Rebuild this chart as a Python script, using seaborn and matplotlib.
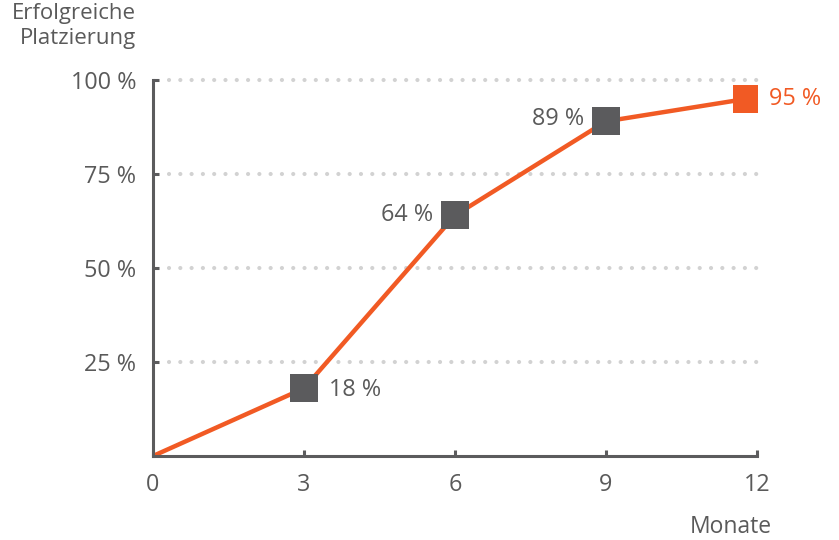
import matplotlib
matplotlib.use("Agg")
import matplotlib.pyplot as plt
import seaborn as sns
import pandas as pd

# Werte
monate = [0, 3, 6, 9, 11.8]
platzierung = [0, 18, 64, 89, 95]
beschriftung = ["", "18 %", "64 %", "89 %", "95 %"]
y_ticks = [25, 50, 75, 100]
x_ticks = [0, 3, 6, 9, 12]

orange = "#f15a24"
grau = "#5b5b5d"
text_grau = "#5a5a5a"
fs = 16.8

sns.set_style("white")
plt.rcParams['font.family'] = ['Open Sans', 'DejaVu Sans']

df = pd.DataFrame({"Monate": monate, "Platzierung": platzierung})

fig = plt.figure(figsize=(8.39, 5.40), dpi=100)
ax = fig.add_axes([0.1824, 0.1556, 0.7199, 0.6963])

# Gitterlinien gepunktet
for y in y_ticks:
    ax.plot([0.32, 12.0], [y, y], linestyle=(0, (0.01, 2.7)), dash_capstyle="round",
            color="#d2d2d2", linewidth=3, zorder=1, clip_on=False)

sns.lineplot(data=df, x="Monate", y="Platzierung", color=orange, linewidth=3.2,
             ax=ax, zorder=2)

# Marker
ax.scatter(monate[1:4], platzierung[1:4], marker="s", s=420, color=grau, zorder=3, linewidths=0)
ax.scatter(monate[4:], platzierung[4:], marker="s", s=420, color=orange, zorder=3, linewidths=0)

# Beschriftungen der Punkte
ax.annotate(beschriftung[1], (monate[1], platzierung[1]), xytext=(18, -1), textcoords="offset points",
            ha="left", va="center", fontsize=fs, color=text_grau)
ax.annotate(beschriftung[2], (monate[2], platzierung[2]), xytext=(-16, 0), textcoords="offset points",
            ha="right", va="center", fontsize=fs, color=text_grau)
ax.annotate(beschriftung[3], (monate[3], platzierung[3]), xytext=(-16, 2), textcoords="offset points",
            ha="right", va="center", fontsize=fs, color=text_grau)
ax.annotate(beschriftung[4], (monate[4], platzierung[4]), xytext=(16, 0), textcoords="offset points",
            ha="left", va="center", fontsize=fs, color=orange)

ax.set_xlim(0, 12)
ax.set_ylim(0, 100)
ax.set_xticks(x_ticks)
ax.set_xticklabels([str(x) for x in x_ticks])
ax.set_yticks(y_ticks)
ax.set_yticklabels([f"{y} %" for y in y_ticks])
ax.tick_params(bottom=True, left=True, direction="in", length=4.5, width=2.2, color=grau,
               labelcolor=text_grau, labelsize=fs, pad=12)
ax.tick_params(axis="y", pad=12)
ax.set_xlabel("")
ax.set_ylabel("")

for s in ["top", "right"]:
    ax.spines[s].set_visible(False)
for s in ["left", "bottom"]:
    ax.spines[s].set_color(grau)
    ax.spines[s].set_linewidth(2.2)

fig.text(136 / 839, 1 - 3 / 540, "Erfolgreiche\nPlatzierung", ha="right", va="top",
         fontsize=16, color=text_grau, linespacing=1.25)
fig.text(772 / 839, 1 - 527 / 540, "Monate", ha="right", va="center",
         fontsize=16.5, color=text_grau)

fig.savefig("out.png", dpi=100)
